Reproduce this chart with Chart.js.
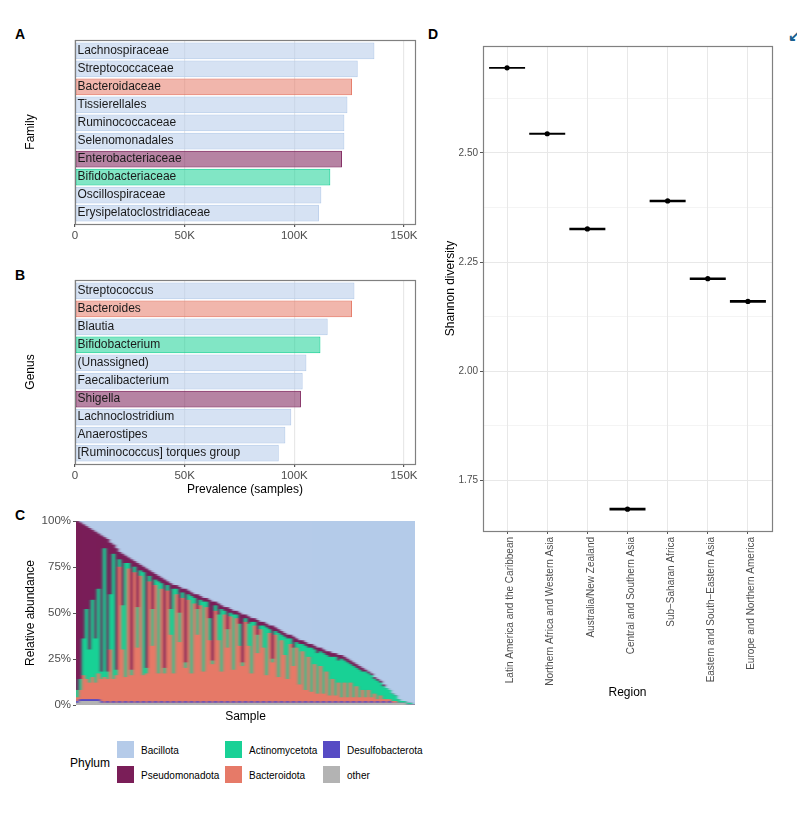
<!DOCTYPE html>
<html>
<head>
<meta charset="utf-8">
<title>Prevalence and diversity</title>
<script src="https://cdn.jsdelivr.net/npm/chart.js@4"></script>
<style>
  html, body { margin:0; padding:0; background:#fff; }
  body { position:relative; width:797px; height:813px; overflow:hidden; font-family:"Liberation Sans", Arial, sans-serif; }
  canvas { position:absolute; }
  .tag { position:absolute; font-weight:bold; font-size:14px; line-height:16px; color:#000; }
  .legend-title { position:absolute; left:70px; top:755px; font-size:12px; line-height:16px; color:#000; }
  .swatch { position:absolute; width:17px; height:17px; }
  .legend-label { position:absolute; font-size:10px; line-height:14px; color:#000; white-space:nowrap; }
  #corner { position:absolute; left:788px; top:28px; font-size:15px; line-height:16px; font-weight:bold; color:#1a5f8f; }
</style>
</head>
<body>
<div class="tag" style="left:15px;top:26px">A</div>
<div class="tag" style="left:15px;top:267px">B</div>
<div class="tag" style="left:15px;top:507px">C</div>
<div class="tag" style="left:428px;top:26px">D</div>
<div id="corner">↙</div>
<canvas id="chartA" width="430" height="225" style="left:0;top:30px"></canvas>
<canvas id="chartB" width="430" height="230" style="left:0;top:270px"></canvas>
<canvas id="chartC" width="430" height="215" style="left:0;top:510px"></canvas>
<canvas id="chartD" width="367" height="680" style="left:430px;top:30px"></canvas>
<div class="legend-title">Phylum</div>
<div id="legend"></div>
<script>
// ── data ─────────────────────────────────
const phyla = ['Bacillota','Pseudomonadota','Actinomycetota','Bacteroidota','Desulfobacterota','other'];
const phylumColors = ['#b5cbe9','#7a1e58','#19d196','#e67a68','#574bc4','#b3b3b3'];

const families = ['Lachnospiraceae','Streptococcaceae','Bacteroidaceae','Tissierellales','Ruminococcaceae','Selenomonadales','Enterobacteriaceae','Bifidobacteriaceae','Oscillospiraceae','Erysipelatoclostridiaceae'];
const familyCounts = [136500,128900,126300,124200,122800,122800,121700,116400,112300,111200];
const familyPhylum = [0,0,3,0,0,0,1,2,0,0];

const genera = ['Streptococcus','Bacteroides','Blautia','Bifidobacterium','(Unassigned)','Faecalibacterium','Shigella','Lachnoclostridium','Anaerostipes','[Ruminococcus] torques group'];
const genusCounts = [127400,126300,115200,111900,105500,103800,103000,98600,95900,92900];
const genusPhylum = [0,3,0,2,0,0,1,0,0,0];

const countTicks = [0,50000,100000,150000];

// samples sorted by falling non-Bacillota share, read across panel C
const bacillota = [0,1,2,3,4,5,6,7,8,9,10,12,13,15,17,18,19,20,21,22,23,24,25,26,27,28,29,30,31,32,33,34,35,35,36,37,37,38,39,40,40,41,42,42,43,44,44,45,46,47,47,48,49,49,50,51,51,52,53,53,54,55,55,56,57,57,58,59,60,61,62,62,63,64,65,65,66,67,67,68,69,69,70,71,71,72,72,73,73,74,75,76,77,78,79,80,81,82,83,85,86,87,89,91,92,94,95,97,98,98,99,99,100];
const pseudomonadota = [92,85,62,45,66,38,58,30,74,6,72,28,5,66,4,28,4,3,60,3,24,3,3,54,3,20,3,3,3,48,2,14,2,2,14,2,40,2,2,2,8,2,2,2,10,32,2,6,2,2,12,2,2,2,6,26,2,4,2,2,8,2,2,2,2,18,2,2,2,2,2,2,6,2,2,2,2,2,2,2,3,2,2,2,3,2,2,3,2,2,2,2,2,2,2,2,1,1,1,1,1,1,1,0,0,0,0,0,0,0,0,0,0];
const actinomycetota = [4,6,20,38,18,42,24,46,4,70,4,30,68,3,4,24,62,3,3,3,22,3,56,3,3,20,3,50,3,3,3,14,46,3,16,3,3,3,42,3,14,3,38,3,12,2,3,14,34,2,10,2,30,2,12,2,2,12,28,2,10,2,12,26,2,2,2,24,3,10,22,3,10,3,22,4,24,5,24,8,22,8,22,9,21,12,21,12,21,12,19,10,17,10,15,10,14,9,12,8,10,7,7,6,5,4,3,2,1,1,1,1,0];
const bacteroidota = [2,5,13,11,9,12,9,14,12,14,12,29,12,15,73,29,13,73,14,71,29,69,14,16,65,31,63,16,61,16,60,37,15,59,32,57,18,56,15,54,36,53,16,52,33,21,49,34,16,48,29,47,17,46,30,20,43,31,15,42,26,40,29,15,37,22,36,14,33,26,12,32,19,30,9,28,6,25,5,21,4,20,4,17,3,13,3,11,2,11,2,11,2,9,2,7,2,7,2,5,1,4,1,2,1,1,1,0,0,0,0,0,0];
const desulfobacterota = [1,1,1,1,1,1,1,1,1,0,1,0,1,0,1,0,1,0,1,0,1,0,1,0,1,0,1,0,1,0,1,0,1,0,1,0,1,0,1,0,1,0,1,0,1,0,1,0,1,0,1,0,1,0,1,0,1,0,1,0,1,0,1,0,1,0,1,0,1,0,1,0,1,0,1,0,1,0,1,0,1,0,1,0,1,0,1,0,1,0,1,0,1,0,1,0,1,0,1,0,1,0,1,0,1,0,0,0,0,0,0,0,0];
const otherPhyla = [1,2,2,2,2,2,2,2,1,1,1,1,1,1,1,1,1,1,1,1,1,1,1,1,1,1,1,1,1,1,1,1,1,1,1,1,1,1,1,1,1,1,1,1,1,1,1,1,1,1,1,1,1,1,1,1,1,1,1,1,1,1,1,1,1,1,1,1,1,1,1,1,1,1,1,1,1,1,1,1,1,1,1,1,1,1,1,1,1,1,1,1,1,1,1,1,1,1,1,1,1,1,1,1,1,1,1,1,1,1,0,0,0];
const abundanceTicks = [0,25,50,75,100];

const regions = ['Latin America and the Caribbean','Northern Africa and Western Asia','Australia/New Zealand','Central and Southern Asia','Sub−Saharan Africa','Eastern and South−Eastern Asia','Europe and Northern America'];
const shannon = [2.695,2.544,2.326,1.684,2.390,2.212,2.160];
const crossbarWeight = [1.9,1.9,2.5,2.7,2.4,2.4,2.7];
const shannonTicks = [1.75,1.875,2,2.125,2.25,2.375,2.5,2.625];
const shannonMajor = [1.75,2,2.25,2.5];

// ── shared ───────────────────────────────
Chart.defaults.font.family = '"Liberation Sans", Arial, sans-serif';
Chart.defaults.animation = false;
Chart.defaults.responsive = false;
Chart.defaults.plugins.legend.display = false;
Chart.defaults.plugins.tooltip.enabled = false;

const GREY_TEXT = '#4d4d4d';
const GRID = '#e8e8e8';

const panelBorder = {
  id: 'panelBorder',
  afterDraw(chart) {
    const { ctx, chartArea: a } = chart;
    ctx.save();
    ctx.strokeStyle = '#808080';
    ctx.lineWidth = 1.2;
    ctx.strokeRect(a.left + .5, a.top + .5, a.right - a.left, a.bottom - a.top);
    ctx.restore();
  }
};

// thousands of samples in the original melt into each other: smear the stripes sideways
const smearStripes = {
  id: 'smearStripes',
  afterDatasetsDraw(chart) {
    const { ctx, chartArea: a } = chart;
    ctx.save();
    ctx.beginPath();
    ctx.rect(a.left, a.top, a.right - a.left, a.bottom - a.top);
    ctx.clip();
    [[-2, .25], [2, .25], [-1, .35], [1, .35]].forEach(([dx, alpha]) => {
      ctx.globalAlpha = alpha;
      ctx.drawImage(chart.canvas, dx, 0, chart.width, chart.height);
    });
    ctx.globalAlpha = 1;
    ctx.filter = 'blur(0.5px)';
    ctx.drawImage(chart.canvas, 0, 0, chart.width, chart.height);
    ctx.restore();
  }
};

function prevalenceChart(id, names, counts, phylumOf, opts) {
  return new Chart(document.getElementById(id), {
    type: 'bar',
    data: {
      datasets: [{
        data: counts.map((v, i) => ({ x: v, y: i })),
        backgroundColor: phylumOf.map(p => phylumColors[p] + '8c'),
        borderColor: phylumOf.map(p => phylumColors[p]),
        borderWidth: 1,
        borderSkipped: false,
        categoryPercentage: 1,
        barPercentage: .93
      }]
    },
    plugins: [panelBorder],
    options: {
      indexAxis: 'y',
      layout: { autoPadding: false, padding: { top: opts.top, right: 15 } },
      scales: {
        x: {
          type: 'linear', min: 0, max: 155000,
          afterBuildTicks: s => { s.ticks = countTicks.map(v => ({ value: v })); },
          afterFit: s => { s.height = opts.axisHeight; },
          ticks: { color: GREY_TEXT, font: { size: 11.5 }, padding: 2, maxRotation: 0, callback: v => v ? (v / 1000) + 'K' : '0' },
          grid: { color: GRID, lineWidth: 1.2, tickLength: 3, tickColor: '#555' },
          border: { display: false },
          title: opts.xTitle
            ? { display: true, text: opts.xTitle, color: '#000', font: { size: 12 }, padding: { top: 0, bottom: 3 } }
            : { display: false }
        },
        y: {
          type: 'linear', reverse: true, offset: false, min: -0.6, max: 9.6,
          afterBuildTicks: s => { s.ticks = names.map((_, i) => ({ value: i })); },
          afterFit: s => { s.width = 75; },
          ticks: { mirror: true, z: 1, padding: 2.5, color: '#1a1a1a', font: { size: 12 }, autoSkip: false, callback: v => names[v] },
          grid: { display: false },
          border: { display: false },
          title: { display: true, text: opts.yTitle, color: '#000', font: { size: 12 }, padding: { top: 23, bottom: 0 } }
        }
      }
    }
  });
}

// ── panels A, B ──────────────────────────
prevalenceChart('chartA', families, familyCounts, familyPhylum, { top: 10, axisHeight: 31, yTitle: 'Family' });
prevalenceChart('chartB', genera, genusCounts, genusPhylum, { top: 10, axisHeight: 36, yTitle: 'Genus', xTitle: 'Prevalence (samples)' });

// ── panel C ──────────────────────────────
const abundanceSeries = [otherPhyla, desulfobacterota, bacteroidota, actinomycetota, pseudomonadota, bacillota];
new Chart(document.getElementById('chartC'), {
  type: 'bar',
  data: {
    labels: bacillota.map((_, i) => 'S' + (i + 1)),
    datasets: abundanceSeries.map((vals, k) => ({
      label: phyla[5 - k],
      data: vals,
      backgroundColor: phylumColors[5 - k],
      borderWidth: 0,
      barThickness: 3
    }))
  },
  plugins: [smearStripes],
  options: {
    layout: { autoPadding: false, padding: { top: 11, right: 15 } },
    scales: {
      x: {
        stacked: true,
        afterFit: s => { s.height = 20; },
        ticks: { display: false },
        grid: { display: false },
        border: { display: false },
        title: { display: true, text: 'Sample', color: '#000', font: { size: 12 }, padding: { top: 0, bottom: 1 } }
      },
      y: {
        stacked: true, min: 0, max: 100,
        afterBuildTicks: s => { s.ticks = abundanceTicks.map(v => ({ value: v })); },
        afterFit: s => { s.width = 76; },
        ticks: { color: GREY_TEXT, font: { size: 11.5 }, padding: 2, callback: v => v + '%' },
        grid: { drawOnChartArea: false, tickLength: 3, tickColor: '#555' },
        border: { display: false },
        title: { display: true, text: 'Relative abundance', color: '#000', font: { size: 12 }, padding: { top: 23, bottom: 0 } }
      }
    }
  }
});

// legend for C, laid out in columns like the original
const legendBox = document.getElementById('legend');
const legendX = [117, 225, 323];
const legendY = [741, 766];
phyla.forEach((name, i) => {
  const col = Math.floor(i / 2), row = i % 2;
  legendBox.innerHTML += `<div class="swatch" style="left:${legendX[col]}px;top:${legendY[row]}px;background:${phylumColors[i]}"></div>` +
    `<div class="legend-label" style="left:${legendX[col] + 24}px;top:${legendY[row] + 3}px">${name}</div>`;
});

// ── panel D ──────────────────────────────
const regionPoints = shannon.map((v, i) => ({ x: i + 1, y: v }));
new Chart(document.getElementById('chartD'), {
  type: 'scatter',
  data: {
    datasets: [
      { data: regionPoints, pointStyle: 'line', pointRadius: 18, pointBorderWidth: crossbarWeight, pointBorderColor: '#000', pointBackgroundColor: '#000' },
      { data: regionPoints, pointStyle: 'circle', pointRadius: 2.6, pointBorderWidth: 0, pointBackgroundColor: '#000' }
    ]
  },
  plugins: [panelBorder],
  options: {
    layout: { autoPadding: false, padding: { top: 16, right: 25 } },
    scales: {
      x: {
        type: 'linear', min: 0.4, max: 7.6,
        afterBuildTicks: s => { s.ticks = regions.map((_, i) => ({ value: i + 1 })); },
        afterFit: s => { s.height = 179; },
        ticks: { color: GREY_TEXT, font: { size: 10 }, minRotation: 90, maxRotation: 90, padding: 3, labelOffset: 3.5, autoSkip: false, callback: v => regions[v - 1] },
        grid: { color: GRID, lineWidth: 1, tickLength: 3, tickColor: '#555' },
        border: { display: false },
        title: { display: true, text: 'Region', color: '#000', font: { size: 12 }, padding: { top: 0, bottom: 10 } }
      },
      y: {
        type: 'linear', min: 1.634, max: 2.745,
        afterBuildTicks: s => { s.ticks = shannonTicks.map(v => ({ value: v })); },
        afterFit: s => { s.width = 53; },
        ticks: { color: GREY_TEXT, font: { size: 10 }, padding: 2, autoSkip: false, callback: v => shannonMajor.includes(v) ? v.toFixed(2) : '' },
        grid: {
          color: GRID,
          lineWidth: c => shannonMajor.includes(c.tick.value) ? 1 : .5,
          tickLength: 3,
          tickColor: c => shannonMajor.includes(c.tick.value) ? '#555' : 'rgba(0,0,0,0)'
        },
        border: { display: false },
        title: { display: true, text: 'Shannon diversity', color: '#000', font: { size: 12 }, padding: { top: 13.5, bottom: 0 } }
      }
    }
  }
});
</script>
</body>
</html>
